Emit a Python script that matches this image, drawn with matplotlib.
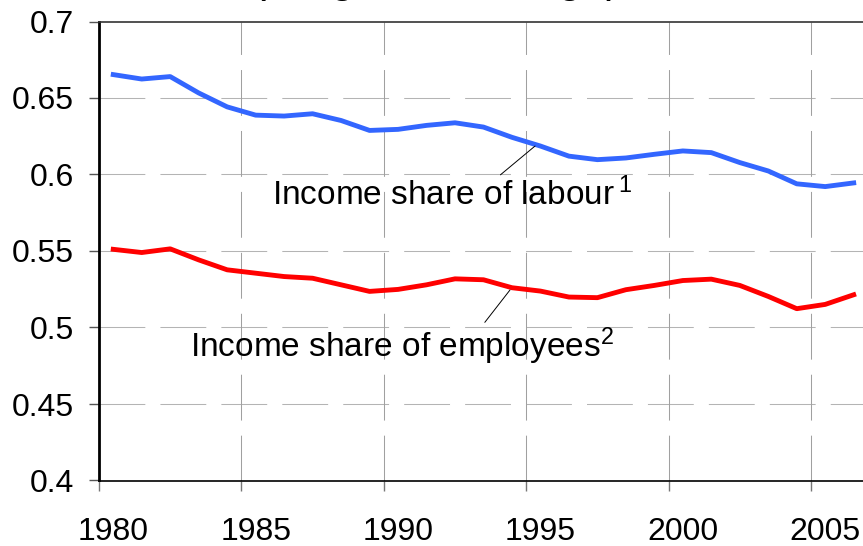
import matplotlib
matplotlib.use('Agg')
import numpy as np
import matplotlib.pyplot as plt

plt.rcParams['font.family'] = ['Liberation Sans', 'DejaVu Sans']
plt.rcParams['mathtext.fontset'] = 'custom'
plt.rcParams['mathtext.rm'] = 'Liberation Sans'
plt.rcParams['mathtext.it'] = 'Liberation Sans'

# ---- data ----
years = list(range(1980, 2007))
labour = [0.6653, 0.6624, 0.6640, 0.6533, 0.6442, 0.6388, 0.6382, 0.6397, 0.6353,
          0.6288, 0.6295, 0.6321, 0.6338, 0.6310, 0.6243, 0.6186, 0.6120, 0.6097,
          0.6108, 0.6132, 0.6154, 0.6143, 0.6078, 0.6023, 0.5939, 0.5921, 0.5945]
employees = [0.5511, 0.5490, 0.5514, 0.5442, 0.5377, 0.5355, 0.5333, 0.5322, 0.5279,
             0.5236, 0.5249, 0.5279, 0.5318, 0.5312, 0.5260, 0.5238, 0.5199, 0.5195,
             0.5247, 0.5275, 0.5307, 0.5316, 0.5275, 0.5203, 0.5123, 0.5151, 0.5214]
xtick_years = [1980, 1985, 1990, 1995, 2000, 2005]
yticks = [0.4, 0.45, 0.5, 0.55, 0.6, 0.65, 0.7]
ytick_labels = ['0.4', '0.45', '0.5', '0.55', '0.6', '0.65', '0.7']

FS = 23
W, H = 863, 546
fig = plt.figure(figsize=(W / 100, H / 100), dpi=100)
# axes right edge runs a little past the image, as in the original crop
ax = fig.add_axes([99 / W, (H - 480.5) / H, (27 * 28.48) / W, 459 / H])

x = np.array(years) + 0.5   # category centres
ax.plot(x, labour, color='#3366FF', lw=3.5, solid_joinstyle='round', zorder=3)
ax.plot(x, employees, color='#FF0000', lw=3.5, solid_joinstyle='round', zorder=3)

ax.set_xlim(1980, 2007)
ax.set_ylim(0.4, 0.7)

# grid: long dashes
dash = (0, (44, 14.5))
for yv in yticks[1:-1]:
    ax.axhline(yv, color='#b4b4b4', lw=0.75, ls=dash, zorder=1)
for xv in xtick_years[1:]:
    ax.axvline(xv, color='#a0a0a0', lw=0.75, ls=dash, zorder=1)

ax.set_yticks(yticks)
ax.set_yticklabels(ytick_labels, fontsize=FS)
ax.tick_params(axis='y', direction='out', length=7, width=1, color='#555555', pad=11)

ax.set_xticks(xtick_years)
ax.set_xticklabels([''] * len(xtick_years))
ax.tick_params(axis='x', which='major', direction='out', length=7, width=1, color='#777777')
ax.set_xticks([v + 0.5 for v in xtick_years], minor=True)
ax.set_xticklabels([str(v) for v in xtick_years], minor=True, fontsize=FS)
ax.tick_params(axis='x', which='minor', length=0, pad=26)

for s in ['left', 'bottom']:
    ax.spines[s].set_color('black')
ax.spines['left'].set_linewidth(2)
ax.spines['bottom'].set_linewidth(1.2)
ax.spines['top'].set_color('#333333')
ax.spines['top'].set_linewidth(1.2)
ax.spines['right'].set_visible(False)

# labels with leader lines
ax.annotate(r'Income share of labour$\,^{1}$', xy=(1995.31, 0.6186), xytext=(1986.07, 0.580),
            fontsize=24, ha='left', va='baseline',
            arrowprops=dict(arrowstyle='-', color='black', lw=0.7,
                            shrinkA=0, shrinkB=0, relpos=(0.6, 0.78)))
ax.annotate('Income share of employees$^{2}$', xy=(1994.43, 0.5245), xytext=(1983.2, 0.4809),
            fontsize=24, ha='left', va='baseline',
            arrowprops=dict(arrowstyle='-', color='black', lw=0.7,
                            shrinkA=0, shrinkB=0, relpos=(0.67, 0.74)))

# title, mostly cut off at the top edge (only descenders show)
fig.text(436 / W, 1 + 8 / H, '(weighted average)', fontsize=31, ha='center', va='baseline')

plt.savefig('out.png', dpi=100)
